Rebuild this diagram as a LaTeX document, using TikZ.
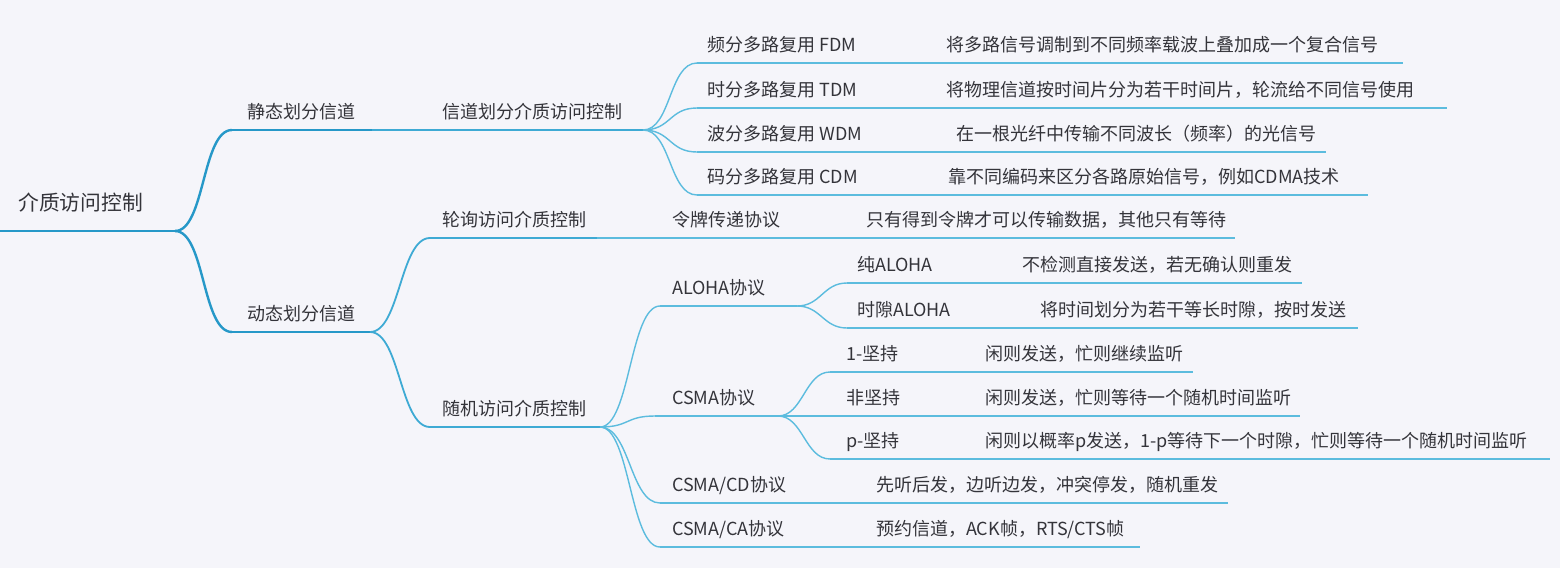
\documentclass[tikz,border=0pt]{standalone}
\usepackage{fontspec}
\setmainfont{Noto Sans CJK SC}
\definecolor{bg}{RGB}{245,245,250}
\definecolor{txt}{RGB}{52,52,58}
\definecolor{lone}{RGB}{38,152,200}
\definecolor{ltwo}{RGB}{62,170,212}
\definecolor{lthree}{RGB}{92,188,222}
\begin{document}
\begin{tikzpicture}[x=1pt,y=-1pt,
  lbl/.style={anchor=base west, inner sep=0pt, text=txt, font=\fontsize{18}{21}\selectfont},
  rootlbl/.style={lbl, font=\fontsize{20.8}{24}\selectfont},
  lnone/.style={draw=lone, line width=2.4pt},
  lntwo/.style={draw=ltwo, line width=1.8pt},
  lnthree/.style={draw=lthree, line width=1.4pt},
  link/.style={out=0, in=180, out distance=#1, in distance=#1},
  link/.default=28]
\fill[bg] (0,0) rectangle (1560,568);
\useasboundingbox (0,0) rectangle (1560,568);

% ---------- texts ----------
\node[rootlbl] (root) at (18,210.5) {介质访问控制};
\node[lbl] (jt) at (247,118.3) {静态划分信道};
\node[lbl] (dt) at (247,320.3) {动态划分信道};
\node[lbl] (xd) at (442,118.3) {信道划分介质访问控制};
\node[lbl] (lx) at (442,226.3) {轮询访问介质控制};
\node[lbl] (sj) at (442,415.3) {随机访问介质控制};
\node[lbl] (fdm) at (707,51.3) {频分多路复用 FDM};
\node[lbl] (fdmd) at (946,51.3) {将多路信号调制到不同频率载波上叠加成一个复合信号};
\node[lbl] (tdm) at (707,96.3) {时分多路复用 TDM};
\node[lbl] (tdmd) at (946,96.3) {将物理信道按时间片分为若干时间片，轮流给不同信号使用};
\node[lbl] (wdm) at (707,140.3) {波分多路复用 WDM};
\node[lbl] (wdmd) at (956,140.3) {在一根光纤中传输不同波长（频率）的光信号};
\node[lbl] (cdm) at (707,183.3) {码分多路复用 CDM};
\node[lbl] (cdmd) at (948,183.3) {靠不同编码来区分各路原始信号，例如CDMA技术};
\node[lbl] (lp) at (672,226.3) {令牌传递协议};
\node[lbl] (lpd) at (866,226.3) {只有得到令牌才可以传输数据，其他只有等待};
\node[lbl] (al) at (672,294.3) {ALOHA协议};
\node[lbl] (pa) at (857,271.3) {纯ALOHA};
\node[lbl] (pad) at (1022,271.3) {不检测直接发送，若无确认则重发};
\node[lbl] (sa) at (857,316.3) {时隙ALOHA};
\node[lbl] (sad) at (1040,316.3) {将时间划分为若干等长时隙，按时发送};
\node[lbl] (cs) at (672,404.3) {CSMA协议};
\node[lbl] (ca1) at (846,360.3) {1-坚持};
\node[lbl] (ca1d) at (985,360.3) {闲则发送，忙则继续监听};
\node[lbl] (ca2) at (846,404.3) {非坚持};
\node[lbl] (ca2d) at (985,404.3) {闲则发送，忙则等待一个随机时间监听};
\node[lbl] (ca3) at (846,447.3) {p-坚持};
\node[lbl] (ca3d) at (985,447.3) {闲则以概率p发送，1-p等待下一个时隙，忙则等待一个随机时间监听};
\node[lbl] (cd) at (672,491.3) {CSMA/CD协议};
\node[lbl] (cdd) at (876,491.3) {先听后发，边听边发，冲突停发，随机重发};
\node[lbl] (cca) at (672,535.3) {CSMA/CA协议};
\node[lbl] (ccad) at (876,535.3) {预约信道，ACK帧，RTS/CTS帧};

% ---------- underline coordinates ----------
\coordinate (roots) at (0,231);   \coordinate (roote) at (175,231);
\coordinate (jts) at (232,130);   \coordinate (jte) at (372,130);
\coordinate (dts) at (232,332);   \coordinate (dte) at (370,332);
\coordinate (xds) at (430,130);   \coordinate (xde) at (643,130);
\coordinate (lxs) at (430,238);   \coordinate (lxe) at (597,238);
\coordinate (sjs) at (430,427);   \coordinate (sje) at (600,427);
\coordinate (fdms) at (697,63);   \coordinate (fdme) at (875,63);
\coordinate (fdmds) at (935,63);  \coordinate (fdmde) at (1403,63);
\coordinate (tdms) at (697,108);  \coordinate (tdme) at (875,108);
\coordinate (tdmds) at (935,108); \coordinate (tdmde) at (1447,108);
\coordinate (wdms) at (697,152);  \coordinate (wdme) at (880,152);
\coordinate (wdmds) at (945,152); \coordinate (wdmde) at (1326,152);
\coordinate (cdms) at (697,195);  \coordinate (cdme) at (875,195);
\coordinate (cdmds) at (935,195); \coordinate (cdmde) at (1368,195);
\coordinate (lps) at (660,238);   \coordinate (lpe) at (790,238);
\coordinate (lpds) at (855,238);  \coordinate (lpde) at (1235,238);
\coordinate (als) at (660,306);   \coordinate (ale) at (797,306);
\coordinate (pas) at (847,283);   \coordinate (pae) at (950,283);
\coordinate (pads) at (1010,283); \coordinate (pade) at (1302,283);
\coordinate (sas) at (847,328);   \coordinate (sae) at (968,328);
\coordinate (sads) at (1030,328); \coordinate (sade) at (1358,328);
\coordinate (css) at (655,416);   \coordinate (cse) at (778,416);
\coordinate (ca1s) at (830,372);  \coordinate (ca1e) at (910,372);
\coordinate (ca1ds) at (975,372); \coordinate (ca1de) at (1193,372);
\coordinate (ca2s) at (830,416);  \coordinate (ca2e) at (910,416);
\coordinate (ca2ds) at (975,416); \coordinate (ca2de) at (1300,416);
\coordinate (ca3s) at (830,459);  \coordinate (ca3e) at (910,459);
\coordinate (ca3ds) at (975,459); \coordinate (ca3de) at (1550,459);
\coordinate (cds) at (660,503);   \coordinate (cde) at (800,503);
\coordinate (cdds) at (865,503);  \coordinate (cdde) at (1228,503);
\coordinate (ccas) at (660,547);  \coordinate (ccae) at (800,547);
\coordinate (ccads) at (865,547); \coordinate (ccade) at (1140,547);

% ---------- level 0/1 ----------
\draw[lnone] (roots) -- (roote);
\draw[lnone] (roote) to[link=30] (jts);
\draw[lnone] (roote) to[link=30] (dts);
\draw[lnone] (jts) -- (jte);
\draw[lnone] (dts) -- (dte);

% ---------- level 2 ----------
\draw[lntwo] (jte) -- (xds);
\draw[lntwo] (xds) -- (xde);
\draw[lntwo] (dte) to[link=30] (lxs);
\draw[lntwo] (dte) to[link=30] (sjs);
\draw[lntwo] (lxs) -- (lxe);
\draw[lntwo] (sjs) -- (sje);

% ---------- level 3+ ----------
\foreach \a in {fdm,tdm,wdm,cdm}{
  \draw[lnthree] (xde) to[link=28] (\a s);
  \draw[lnthree] (\a s) -- (\a e);
  \draw[lnthree] (\a e) -- (\a ds);
  \draw[lnthree] (\a ds) -- (\a de);
}
\draw[lnthree] (lxe) -- (lps);
\draw[lnthree] (lps) -- (lpe);
\draw[lnthree] (lpe) -- (lpds);
\draw[lnthree] (lpds) -- (lpde);

\foreach \a in {al,cs,cd,cca}{
  \draw[lnthree] (sje) to[link=30] (\a s);
  \draw[lnthree] (\a s) -- (\a e);
}
\foreach \a in {cd,cca}{
  \draw[lnthree] (\a e) -- (\a ds);
  \draw[lnthree] (\a ds) -- (\a de);
}
\foreach \a in {pa,sa}{
  \draw[lnthree] (ale) to[link=24] (\a s);
  \draw[lnthree] (\a s) -- (\a e);
  \draw[lnthree] (\a e) -- (\a ds);
  \draw[lnthree] (\a ds) -- (\a de);
}
\foreach \a in {ca1,ca2,ca3}{
  \draw[lnthree] (cse) to[link=25] (\a s);
  \draw[lnthree] (\a s) -- (\a e);
  \draw[lnthree] (\a e) -- (\a ds);
  \draw[lnthree] (\a ds) -- (\a de);
}
\end{tikzpicture}
\end{document}
